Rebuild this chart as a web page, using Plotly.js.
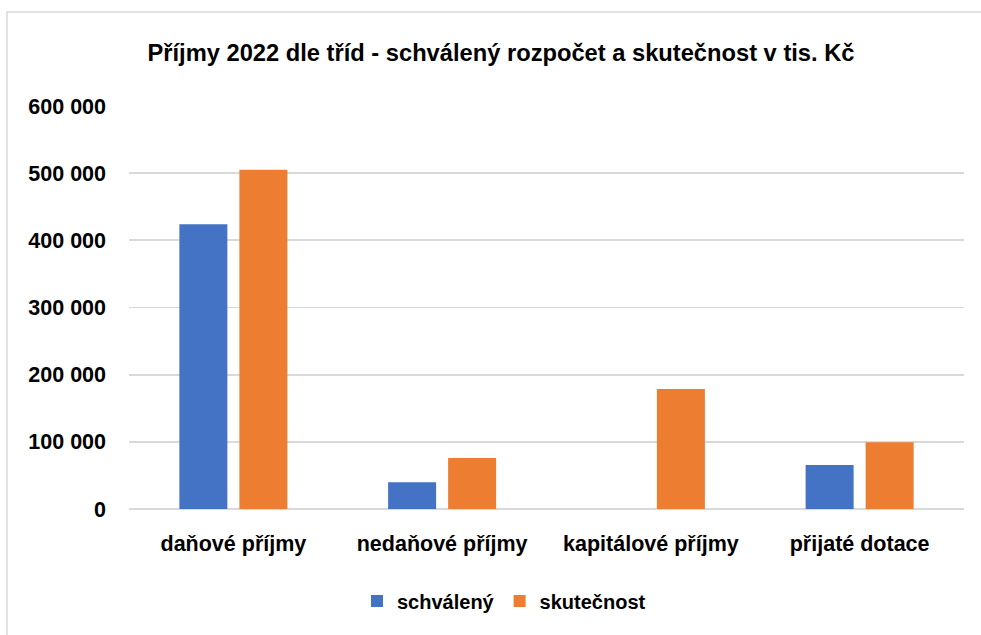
<!DOCTYPE html>
<html>
<head>
<meta charset="utf-8">
<script src="https://cdn.plot.ly/plotly-3.0.1.min.js"></script>
<style>
html,body{margin:0;padding:0;background:#fff;}
#chart{width:981px;height:635px;}
</style>
</head>
<body>
<div id="chart"></div>
<script>
const categories = ["daňové příjmy", "nedaňové příjmy", "kapitálové příjmy", "přijaté dotace"];
const schvaleny = [424000, 40000, 0, 65500];
const skutecnost = [505000, 76000, 178500, 99500];
const yTickVals = [0, 100000, 200000, 300000, 400000, 500000, 600000];
const yTickText = ["0", "100 000", "200 000", "300 000", "400 000", "500 000", "600 000"];

const FONT = "Liberation Sans, Arial, sans-serif";
const L = 129, R = 17, T = 106, B = 126, W = 981, H = 635;
const pw = W - L - R, ph = H - T - B;
const px = v => (v - L) / pw;
const py = v => (H - B - v) / ph;

const traces = [
  {type: "bar", name: "schválený", x: categories, y: schvaleny,
   marker: {color: "#4472C4", line: {width: 0}}},
  {type: "bar", name: "skutečnost", x: categories, y: skutecnost,
   marker: {color: "#ED7D31", line: {width: 0}}}
];

const layout = {
  width: W, height: H,
  margin: {l: L, r: R, t: T, b: B, pad: 0},
  paper_bgcolor: "#fff", plot_bgcolor: "#fff",
  font: {family: FONT, color: "#000"},
  title: {text: "Příjmy 2022 dle tříd - schválený rozpočet a skutečnost v tis. Kč",
          font: {family: FONT, size: 23.7, color: "#000", weight: 700},
          x: 501 / W, xref: "container", xanchor: "center", y: 1 - 53 / H, yref: "container", yanchor: "middle"},
  barmode: "group", bargap: 0.425, bargroupgap: 0.2,
  showlegend: true,
  legend: {orientation: "h", x: px(504), xanchor: "center", y: py(601), yanchor: "middle",
           font: {family: FONT, size: 20, color: "#000", weight: 700}, itemwidth: 30, traceorder: "normal"},
  xaxis: {type: "category", showgrid: false, showline: false, zeroline: false, ticks: "",
          tickfont: {family: FONT, size: 21.5, color: "#000", weight: 700}, ticklabelstandoff: 19, fixedrange: true},
  yaxis: {range: [0, 600000], tickvals: yTickVals, ticktext: yTickText, showgrid: true,
          gridcolor: "#d9d9d9", gridwidth: 1.7, zeroline: true, zerolinecolor: "#d9d9d9", zerolinewidth: 1.7,
          showline: false, ticks: "", tickfont: {family: FONT, size: 21.5, color: "#000", weight: 700},
          ticklabelstandoff: 22, fixedrange: true},
  shapes: [
    {type: "rect", xref: "paper", yref: "paper", x0: px(7), x1: px(990), y0: py(12), y1: py(650),
     line: {color: "#d9d9d9", width: 1.5}, fillcolor: "rgba(0,0,0,0)", layer: "below"}
  ]
};

Plotly.newPlot("chart", traces, layout, {displayModeBar: false, staticPlot: true});
</script>
</body>
</html>
